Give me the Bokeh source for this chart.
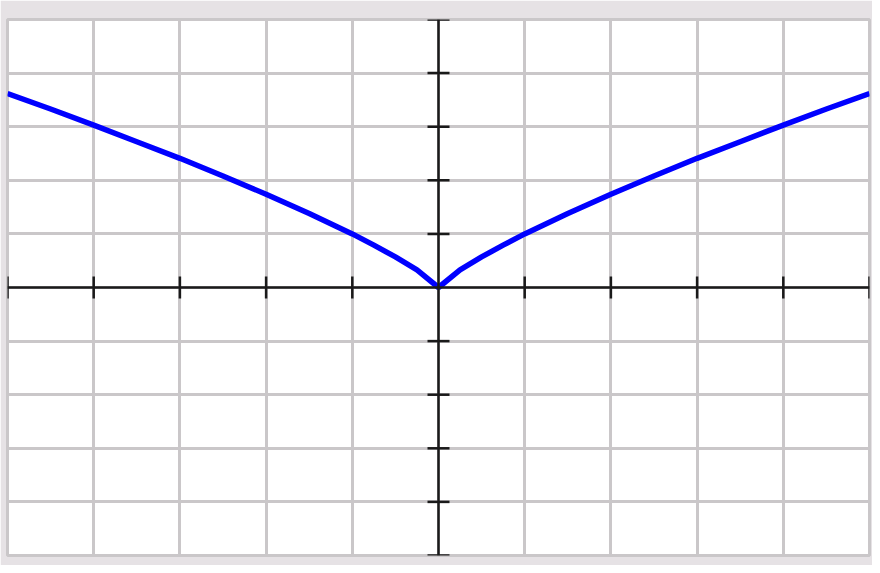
import math
from bokeh.plotting import figure
from bokeh.models import Span, Grid, FixedTicker, ColumnDataSource
from bokeh.embed import file_html
from bokeh.resources import INLINE

# Curve values
x_vals = [-5, -4.5, -4, -3.5, -3, -2.5, -2, -1.5, -1, -0.75, -0.5, -0.25, 0,
          0.25, 0.5, 0.75, 1, 1.5, 2, 2.5, 3, 3.5, 4, 4.5, 5]
y_vals = [3.62, 3.33, 3.03, 2.72, 2.41, 2.08, 1.74, 1.38, 1.0, 0.79, 0.57, 0.33, 0,
          0.33, 0.57, 0.79, 1.0, 1.38, 1.74, 2.08, 2.41, 2.72, 3.03, 3.33, 3.62]

# Grid / tick positions
x_ticks = [-5, -4, -3, -2, -1, 0, 1, 2, 3, 4, 5]
y_ticks = [-5, -4, -3, -2, -1, 0, 1, 2, 3, 4, 5]

GRID = "#cac7c9"
BG = "#e6e2e5"

p = figure(width=872, height=565, x_range=(-5, 5), y_range=(-5, 5),
           x_axis_type=None, y_axis_type=None,
           output_backend="svg", toolbar_location=None,
           min_border_left=7, min_border_right=3, min_border_top=19, min_border_bottom=10)
p.border_fill_color = BG
p.background_fill_color = "white"
p.outline_line_color = GRID
p.outline_line_width = 3

xg = Grid(dimension=0, ticker=FixedTicker(ticks=x_ticks),
          grid_line_color=GRID, grid_line_width=3)
yg = Grid(dimension=1, ticker=FixedTicker(ticks=y_ticks),
          grid_line_color=GRID, grid_line_width=3)
p.add_layout(xg)
p.add_layout(yg)

AX = "#1a1a1a"
p.add_layout(Span(location=0, dimension="width", line_color=AX, line_width=2.5))
p.add_layout(Span(location=0, dimension="height", line_color=AX, line_width=2.5))

# cross ticks
xt = [t for t in x_ticks if t != 0]
yt = [t for t in y_ticks if t != 0]
p.scatter(x=xt, y=[0] * len(xt), marker="dash", size=22, angle=math.pi / 2,
          line_color=AX, line_width=2.5)
p.scatter(x=[0] * len(yt), y=yt, marker="dash", size=22,
          line_color=AX, line_width=2.5)

src = ColumnDataSource(data=dict(x=x_vals, y=y_vals))
p.line("x", "y", source=src, line_color="#0000ff", line_width=5.5)

open("out.html", "w").write(file_html(p, INLINE))
